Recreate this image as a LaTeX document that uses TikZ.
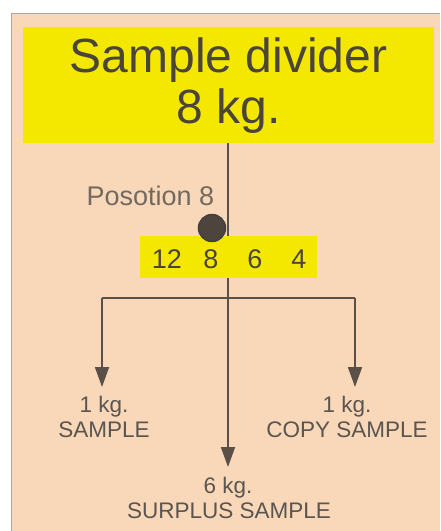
\documentclass[tikz,border=0pt]{standalone}
\usepackage{fontspec}
\setmainfont{Liberation Sans}
\usetikzlibrary{arrows.meta}
\definecolor{peach}{HTML}{F8D8B8}
\definecolor{ylw}{HTML}{F5E800}
\definecolor{txt}{HTML}{4A4536}
\definecolor{lbl}{HTML}{5A5550}
\definecolor{ln}{HTML}{5A5048}
\tikzset{
  ybox/.style={fill=ylw, draw=none, inner sep=0pt},
  bigtxt/.style={font=\fontsize{48}{48}\selectfont, text=txt, anchor=base, inner sep=0pt},
  midtxt/.style={font=\fontsize{27}{27}\selectfont, text=txt, anchor=base, inner sep=0pt},
  smtxt/.style={font=\fontsize{22.5}{22.5}\selectfont, text=lbl, anchor=base, inner sep=0pt},
  conn/.style={draw=ln, line width=1.8pt},
  arr/.style={conn, -{Triangle[width=14pt,length=20pt]}}
}
\begin{document}
\begin{tikzpicture}[x=1pt,y=-1pt]
\useasboundingbox (0,0) rectangle (440,531);
\fill[white] (0,0) rectangle (440,531);
\fill[peach] (11,13) rectangle (440,531);
\draw[gray!70, line width=0.8pt] (11,531) -- (11,13) -- (440,13);
% main box
\node[ybox, minimum width=411pt, minimum height=116pt] (main) at (228.5,85) {};
\node[bigtxt] (t1) at (228.5,72) {Sample divider};
\node[bigtxt] (t2) at (228.5,123) {8 kg.};
% center line and arrow
\coordinate (ctip) at (228,467);
\draw[arr] (main.south -| ctip) -- (ctip);
% selector box
\node[ybox, minimum width=177pt, minimum height=42pt] (sel) at (228.5,257) {};
\node[midtxt] (d12) at (167,268) {12};
\node[midtxt] (d8) at (211,268) {8};
\node[midtxt] (d6) at (255,268) {6};
\node[midtxt] (d4) at (299,268) {4};
% position marker
\node[midtxt, text=lbl!85!peach] (pos) at (150.5,205) {Posotion 8};
\node[circle, fill=ln!85!black, draw=black!75, line width=1.5pt, minimum size=27pt, inner sep=0pt] (dot) at (212,228) {};
% branches
\coordinate (bl) at (102,298);
\coordinate (br) at (355,298);
\coordinate (ltip) at (102,387);
\coordinate (rtip) at (355,387);
\draw[conn] (bl) -- (br);
\draw[arr] (bl) -- (ltip);
\draw[arr] (br) -- (rtip);
% labels
\node[smtxt] (l1) at (104,412) {1 kg.};
\node[smtxt] (l2) at (104,437) {SAMPLE};
\node[smtxt] (r1) at (347,412) {1 kg.};
\node[smtxt] (r2) at (347,437) {COPY SAMPLE};
\node[smtxt] (c1) at (228,493) {6 kg.};
\node[smtxt] (c2) at (229,518) {SURPLUS SAMPLE};
\end{tikzpicture}
\end{document}
